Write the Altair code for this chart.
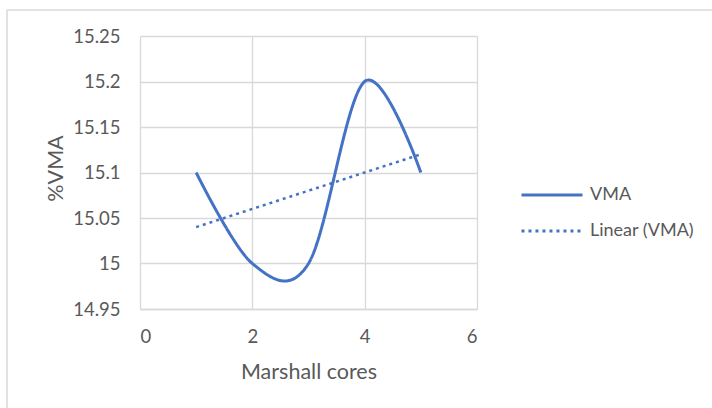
import altair as alt
import pandas as pd

# Marshall core measurements
cores = [1, 2, 3, 4, 5]
vma = [15.1, 15.0, 15.0, 15.2, 15.1]

series_names = ["VMA", "Linear (VMA)"]
y_ticks = [14.95, 15.0, 15.05, 15.1, 15.15, 15.2, 15.25]
x_ticks = [0, 2, 4, 6]

BLUE = "#4472C4"
GRID = "#d9d9d9"
TEXT = "#595959"
FONT = "Lato"

df = pd.DataFrame({"core": cores, "vma": vma, "series": series_names[0]})

x_enc = alt.X(
    "core:Q",
    scale=alt.Scale(domain=[0, 6], nice=False, zero=False),
    axis=alt.Axis(
        values=x_ticks, format="d", title="Marshall cores", ticks=False, labelPadding=18,
        domainColor=GRID, domainWidth=1.3, gridColor=GRID, gridWidth=1.3,
        titleY=69, titleBaseline="alphabetic",
    ),
)
y_enc = alt.Y(
    "vma:Q",
    scale=alt.Scale(domain=[14.95, 15.25], nice=False, zero=False),
    axis=alt.Axis(
        values=y_ticks, format="~g", title="%VMA", ticks=False, labelPadding=20,
        domain=False, gridColor=GRID, gridWidth=1.3,
        titleX=-78, titleY=132, titleAngle=-90, titleAlign="center",
        titleBaseline="alphabetic",
    ),
)

color = alt.Color(
    "series:N",
    scale=alt.Scale(domain=series_names, range=[BLUE, BLUE]),
    legend=alt.Legend(
        title=None, orient="none", legendX=392, legendY=139,
        symbolType="M-1.65,0H1.65", symbolSize=1369, symbolStrokeWidth=3,
        labelOffset=18, rowPadding=7, padding=0,
    ),
)
dash = alt.StrokeDash(
    "series:N",
    scale=alt.Scale(domain=series_names, range=[[1, 0], [3, 4]]),
    legend=None,
)

line = alt.Chart(df).mark_line(strokeWidth=3, interpolate="cardinal").encode(
    x=x_enc, y=y_enc, color=color, strokeDash=dash
)

trend = (
    alt.Chart(df)
    .transform_regression("core", "vma", method="linear", extent=[1, 5])
    .transform_calculate(series=f"'{series_names[1]}'")
    .mark_line(strokeWidth=2.5)
    .encode(x="core:Q", y="vma:Q", color=color, strokeDash=dash)
)

frame_data = alt.Data(values=[{"f": 0}])
frame_top = alt.Chart(frame_data).mark_rule(color=GRID, strokeWidth=1.5).encode(
    x=alt.value(-133), x2=alt.value(572), y=alt.value(-26)
)
frame_left = alt.Chart(frame_data).mark_rule(color=GRID, strokeWidth=1.5).encode(
    x=alt.value(-133), y=alt.value(-26), y2=alt.value(372)
)

chart = (
    alt.layer(frame_top, frame_left, line, trend)
    .properties(
        width=337, height=273,
        autosize=alt.AutoSizeParams(type="none"),
        padding={"left": 140, "top": 36, "right": 235, "bottom": 99},
        background="white",
    )
    .configure_view(stroke=None)
    .configure_axis(
        labelFont=FONT, labelFontSize=18.5, labelColor=TEXT,
        titleFont=FONT, titleFontSize=21.5, titleColor=TEXT, titleFontWeight="normal",
    )
    .configure_legend(labelFont=FONT, labelFontSize=18, labelColor=TEXT)
)

chart.save("out.html", embed_options={"renderer": "svg", "actions": False})
